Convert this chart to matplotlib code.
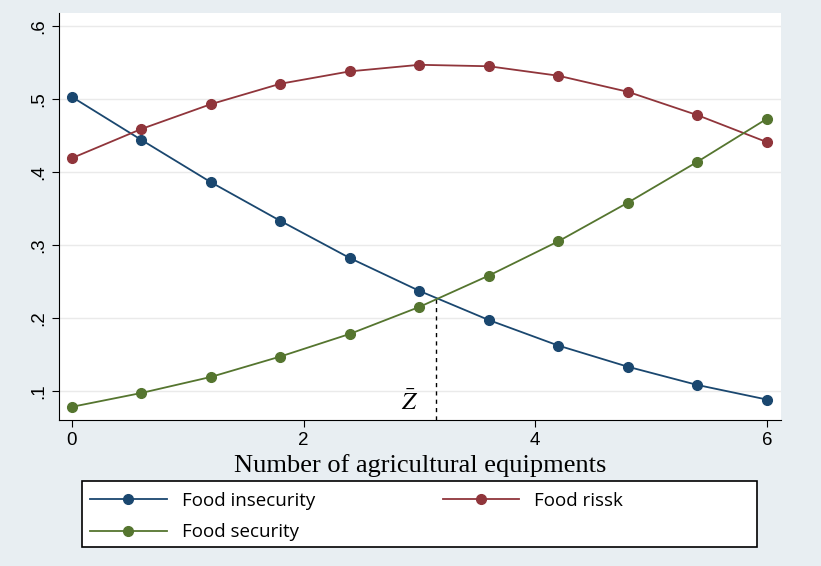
import matplotlib
matplotlib.use("Agg")
import matplotlib.pyplot as plt
from matplotlib.patches import Rectangle

# equipments (x) and predicted probabilities
equip = [0, 0.6, 1.2, 1.8, 2.4, 3.0, 3.6, 4.2, 4.8, 5.4, 6.0]
insecurity = [0.503, 0.444, 0.386, 0.333, 0.282, 0.237, 0.197, 0.162, 0.133, 0.108, 0.088]
risk = [0.419, 0.459, 0.493, 0.521, 0.538, 0.547, 0.545, 0.532, 0.510, 0.478, 0.441]
security = [0.078, 0.097, 0.119, 0.147, 0.178, 0.215, 0.258, 0.305, 0.358, 0.414, 0.473]
z_bar = 3.14
z_cross = 0.227
yticks = [0.1, 0.2, 0.3, 0.4, 0.5, 0.6]
ytick_labels = [".1", ".2", ".3", ".4", ".5", ".6"]

plt.rcParams['mathtext.fontset'] = 'stix'
bg = "#e8eef2"
fig = plt.figure(figsize=(8.21, 5.66), dpi=100, facecolor=bg)
ax = fig.add_axes([0.072, 0.258, 0.879, 0.719])
ax.set_facecolor("white")

l1, = ax.plot(equip, insecurity, "-o", color="#1a476f", lw=1.3, ms=7, label="Food insecurity", zorder=3)
l2, = ax.plot(equip, risk, "-o", color="#90353b", lw=1.3, ms=7, label="Food rissk", zorder=3)
l3, = ax.plot(equip, security, "-o", color="#55752f", lw=1.3, ms=7, label="Food security", zorder=3)

ax.plot([z_bar, z_bar], [0.06, z_cross], "k--", lw=1, dashes=(3, 3))
ax.text(z_bar - 0.22, 0.083, r"$\bar{Z}$", fontsize=18, ha="center", va="center")

ax.set_xlim(-0.11, 6.12)
ax.set_ylim(0.06, 0.618)
ax.set_xticks([0, 2, 4, 6])
ax.set_yticks(yticks)
ax.set_yticklabels(ytick_labels, rotation=90, va="center")
ax.tick_params(labelsize=13.5, length=5, color="black")
for lab in ax.get_xticklabels() + ax.get_yticklabels():
    lab.set_family("Liberation Sans")
ax.grid(axis="y", color="#eaeaea", lw=1)
ax.set_axisbelow(True)
for s in ["top", "right"]:
    ax.spines[s].set_visible(False)
ax.set_xlabel("Number of agricultural equipments", family="Liberation Serif",
              fontsize=19, labelpad=3.5)

# legend box drawn by hand so the second column can sit mid-box
fig.patches.append(Rectangle((0.0999, 0.0336), 0.822, 0.1166, transform=fig.transFigure,
                             facecolor="white", edgecolor="black", lw=1.2, zorder=1))
# column-major fill: col 1 = insecurity, security; col 2 = risk
leg = fig.legend([l1, l3, l2], ["Food insecurity", "Food security", "Food rissk"],
                 loc="upper left", bbox_to_anchor=(0.1096, 0.131), ncol=2, frameon=False,
                 prop={"family": "Open Sans", "size": 13.5}, handlelength=4.1,
                 borderaxespad=0, borderpad=0, handletextpad=0.8, labelspacing=0.72,
                 columnspacing=6.8)
leg.set_zorder(2)

fig.savefig("out.png", dpi=100, facecolor=bg)
